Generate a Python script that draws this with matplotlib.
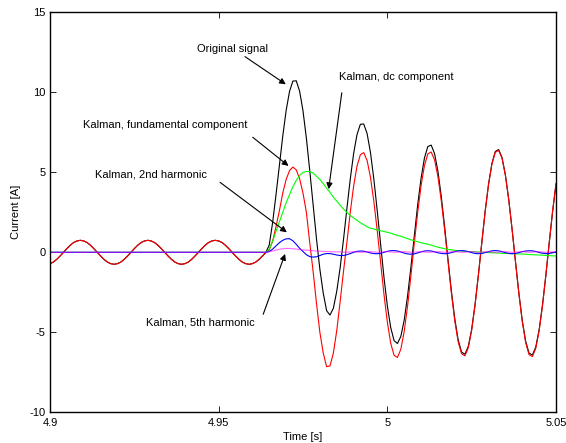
import numpy as np
import matplotlib
matplotlib.use("Agg")
import matplotlib.pyplot as plt

plt.rcParams['font.family'] = ['Liberation Sans', 'DejaVu Sans']

# ---------------- data ----------------
# sampling grid of the read values: 4.900 s ... 5.050 s every 1 ms
time_s = np.linspace(4.900, 5.050, 151)

# pre-fault steady state (4.900 .. 4.964 s), identical for signal and fundamental
prefault_current = [
    -0.71, -0.61, -0.44, -0.23,
    0.0, 0.23, 0.44, 0.61, 0.71, 0.75, 0.71, 0.61, 0.44, 0.23,
    0.0, -0.23, -0.44, -0.61, -0.71, -0.75, -0.71, -0.61, -0.44, -0.23,
    0.0, 0.23, 0.44, 0.61, 0.71, 0.75, 0.71, 0.61, 0.44, 0.23,
    0.0, -0.23, -0.44, -0.61, -0.71, -0.75, -0.71, -0.61, -0.44, -0.23,
    0.0, 0.23, 0.44, 0.61, 0.71, 0.75, 0.71, 0.61, 0.44, 0.23,
    0.0, -0.23, -0.44, -0.61, -0.71, -0.75, -0.71, -0.61, -0.44, -0.23,
    0.0,
]
prefault_zero = [0.0] * 65

# post-fault values (4.965 .. 5.050 s)
original_post = [
    0.46, 1.87, 3.6, 5.46, 7.26, 8.86, 10.05, 10.70, 10.72, 10.07,
    8.84, 7.13, 5.11, 2.94, 0.84, -1.06, -2.55, -3.65, -3.92, -3.5,
    -2.44, -0.98, 0.79,
    2.71, 4.56, 6.16, 7.35, 8.0, 8.02, 7.42, 6.24, 4.58, 2.61,
    0.49, -1.56, -3.34, -4.70, -5.52, -5.70, -5.26, -4.24, -2.73, -0.91,
    1.06, 2.97, 4.63, 5.89, 6.61, 6.70, 6.17, 5.06, 3.47, 1.57,
    -0.47, -2.44, -4.16, -5.47, -6.24, -6.37, -5.88, -4.81, -3.26, -1.39,
    0.62, 2.57, 4.26, 5.55, 6.30, 6.42, 5.92, 4.84, 3.28, 1.41,
    -0.61, -2.56, -4.26, -5.55, -6.30, -6.42, -5.92, -4.84, -3.28, -1.41,
    0.61, 2.56, 4.26,
]
fundamental_post = [
    0.15, 0.7, 1.6, 2.6, 3.7, 4.55, 5.1, 5.33, 5.15, 4.6,
    3.7, 2.5, 0.6, -1.2, -3.2, -5.0, -6.3, -7.15, -7.1, -6.3,
    -4.9, -3.1, -1.2,
    0.59, 2.48, 4.13, 5.38, 6.10, 6.23, 5.74, 4.69, 3.18, 1.36,
    -0.62, -2.62, -4.36, -5.68, -6.44, -6.57, -6.06, -4.95, -3.36, -1.44,
    0.59, 2.50, 4.16, 5.42, 6.15, 6.27, 5.78, 4.73, 3.21, 1.37,
    -0.61, -2.58, -4.30, -5.60, -6.34, -6.47, -5.97, -4.88, -3.31, -1.42,
    0.60, 2.54, 4.23, 5.51, 6.25, 6.37, 5.88, 4.80, 3.26, 1.40,
    -0.62, -2.60, -4.33, -5.64, -6.39, -6.52, -6.01, -4.91, -3.33, -1.43,
    0.61, 2.58, 4.30,
]
dc_post = [
    0.2, 0.7, 1.3, 1.9, 2.5, 3.1, 3.6, 4.1, 4.5, 4.8,
    5.0, 5.05, 5.05, 4.95, 4.75, 4.55, 4.3, 4.0, 3.75, 3.45,
    3.2, 2.95, 2.7, 2.5, 2.3, 2.15, 2.0, 1.85, 1.72, 1.6,
    1.5, 1.45, 1.4, 1.35, 1.3, 1.25, 1.2, 1.12, 1.06, 1.0,
    0.93, 0.85, 0.78, 0.72, 0.66, 0.6, 0.55, 0.5, 0.45, 0.38,
    0.32, 0.27, 0.22, 0.18, 0.15, 0.12, 0.1, 0.08, 0.06, 0.05,
    0.04, 0.03, 0.02, 0.0, -0.01, -0.02, -0.03, -0.04, -0.05, -0.06,
    -0.07, -0.08, -0.08, -0.09, -0.1, -0.11, -0.12, -0.14, -0.15, -0.16,
    -0.17, -0.18, -0.2, -0.21, -0.22, -0.23,
]
harm2_post = [
    0.05, 0.2, 0.4, 0.6, 0.75, 0.84, 0.85, 0.72, 0.5, 0.25,
    0.05, -0.15, -0.27, -0.3, -0.28, -0.2, -0.12, -0.08, -0.08, -0.12,
    -0.17, -0.2, -0.2, -0.15, -0.08, 0.0, 0.06, 0.08, 0.07, 0.02,
    -0.04, -0.08, -0.09, -0.06, 0.0, 0.06, 0.1, 0.11, 0.08, 0.02,
    -0.05, -0.1, -0.12, -0.1, -0.04, 0.03, 0.08, 0.1, 0.08, 0.03,
    -0.03, -0.07, -0.09, -0.07, -0.02, 0.04, 0.09, 0.11, 0.09, 0.04,
    -0.02, -0.07, -0.09, -0.07, -0.02, 0.04, 0.09, 0.11, 0.09, 0.04,
    -0.02, -0.07, -0.09, -0.07, -0.02, 0.04, 0.08, 0.1, 0.09, 0.05,
    -0.01, -0.06, -0.08, -0.07, -0.03, 0.02,
]
harm5_post = [
    0.03, 0.08, 0.14, 0.19, 0.22, 0.24, 0.24, 0.22, 0.2, 0.17,
    0.15, 0.13, 0.12, 0.1, 0.08, 0.07, 0.06, 0.05, 0.04, 0.03,
    0.02, 0.03, 0.01, 0.0, 0.02, 0.04, 0.02, 0.0, 0.01, 0.03,
    0.04, 0.02, 0.0, 0.01, 0.03, 0.04, 0.02, 0.0, 0.01, 0.03,
    0.04, 0.02, 0.0, 0.01, 0.03, 0.04, 0.02, 0.0, 0.01, 0.03,
    0.04, 0.02, 0.0, 0.01, 0.03, 0.04, 0.02, 0.0, 0.01, 0.03,
    0.04, 0.02, 0.0, 0.01, 0.03, 0.04, 0.02, 0.0, 0.01, 0.03,
    0.04, 0.02, 0.0, 0.01, 0.03, 0.04, 0.02, 0.0, 0.01, 0.03,
    0.04, 0.02, 0.0, 0.01, 0.03, 0.04,
]

x_ticks = [4.9, 4.95, 5.0, 5.05]
x_tick_labels = ["4.9", "4.95", "5", "5.05"]
y_ticks = [-10, -5, 0, 5, 10, 15]
y_tick_labels = ["-10", "-5", "0", "5", "10", "15"]

original_signal = prefault_current + original_post
fundamental = prefault_current + fundamental_post
dc_component = prefault_zero + dc_post
harmonic_2 = prefault_zero + harm2_post
harmonic_5 = prefault_zero + harm5_post

# ---------------- figure ----------------
W, H = 566, 443
fig = plt.figure(figsize=(W / 100, H / 100), dpi=100)
ax = fig.add_axes([50 / W, 1 - 412.3 / H, 506 / W, 400 / H])

lw = 0.8
ax.plot(time_s, original_signal, color='black', lw=lw, solid_joinstyle='round')
ax.plot(time_s, fundamental, color='#ff0000', lw=lw, solid_joinstyle='round')
ax.plot(time_s, dc_component, color='#00ff00', lw=lw)
ax.plot(time_s, harmonic_2, color='#0000ff', lw=lw)
ax.plot(time_s, harmonic_5, color='#ff00ff', lw=lw, alpha=0.6)

ax.set_xlim(4.9, 5.05)
ax.set_ylim(-10, 15)
ax.set_xticks(x_ticks)
ax.set_xticklabels(x_tick_labels)
ax.set_yticks(y_ticks)
ax.set_yticklabels(y_tick_labels)
ax.tick_params(direction='in', length=4.5, width=0.6, top=True, right=True,
               labelsize=8, colors='black')
ax.tick_params(axis='x', pad=4)
ax.tick_params(axis='y', pad=3)
for s in ax.spines.values():
    s.set_linewidth(1.0)

ax.set_xlabel("Time [s]", fontsize=8, labelpad=3)
ax.set_ylabel("Current [A]", fontsize=8, labelpad=6)

fs = 8
arrow = dict(arrowstyle='-|>', color='black', lw=0.8, mutation_scale=9,
             shrinkA=0, shrinkB=0)

ax.text(4.9542, 12.7, "Original signal", fontsize=fs, ha='center', va='center')
ax.annotate('', xy=(4.9699, 10.5), xytext=(4.9578, 12.23), arrowprops=arrow)

ax.text(5.0026, 10.96, "Kalman, dc component", fontsize=fs, ha='center', va='center')
ax.annotate('', xy=(4.9826, 3.95), xytext=(4.9865, 9.97), arrowprops=arrow)

ax.text(4.9341, 7.94, "Kalman, fundamental component", fontsize=fs, ha='center', va='center')
ax.annotate('', xy=(4.9707, 5.4), xytext=(4.9601, 7.19), arrowprops=arrow)

ax.text(4.9299, 4.875, "Kalman, 2nd harmonic", fontsize=fs, ha='center', va='center')
ax.annotate('', xy=(4.9702, 1.25), xytext=(4.9504, 4.375), arrowprops=arrow)

ax.text(4.9445, -4.4, "Kalman, 5th harmonic", fontsize=fs, ha='center', va='center')
ax.annotate('', xy=(4.9697, -0.1), xytext=(4.9632, -3.875), arrowprops=arrow)

fig.savefig("out.png", dpi=100)
